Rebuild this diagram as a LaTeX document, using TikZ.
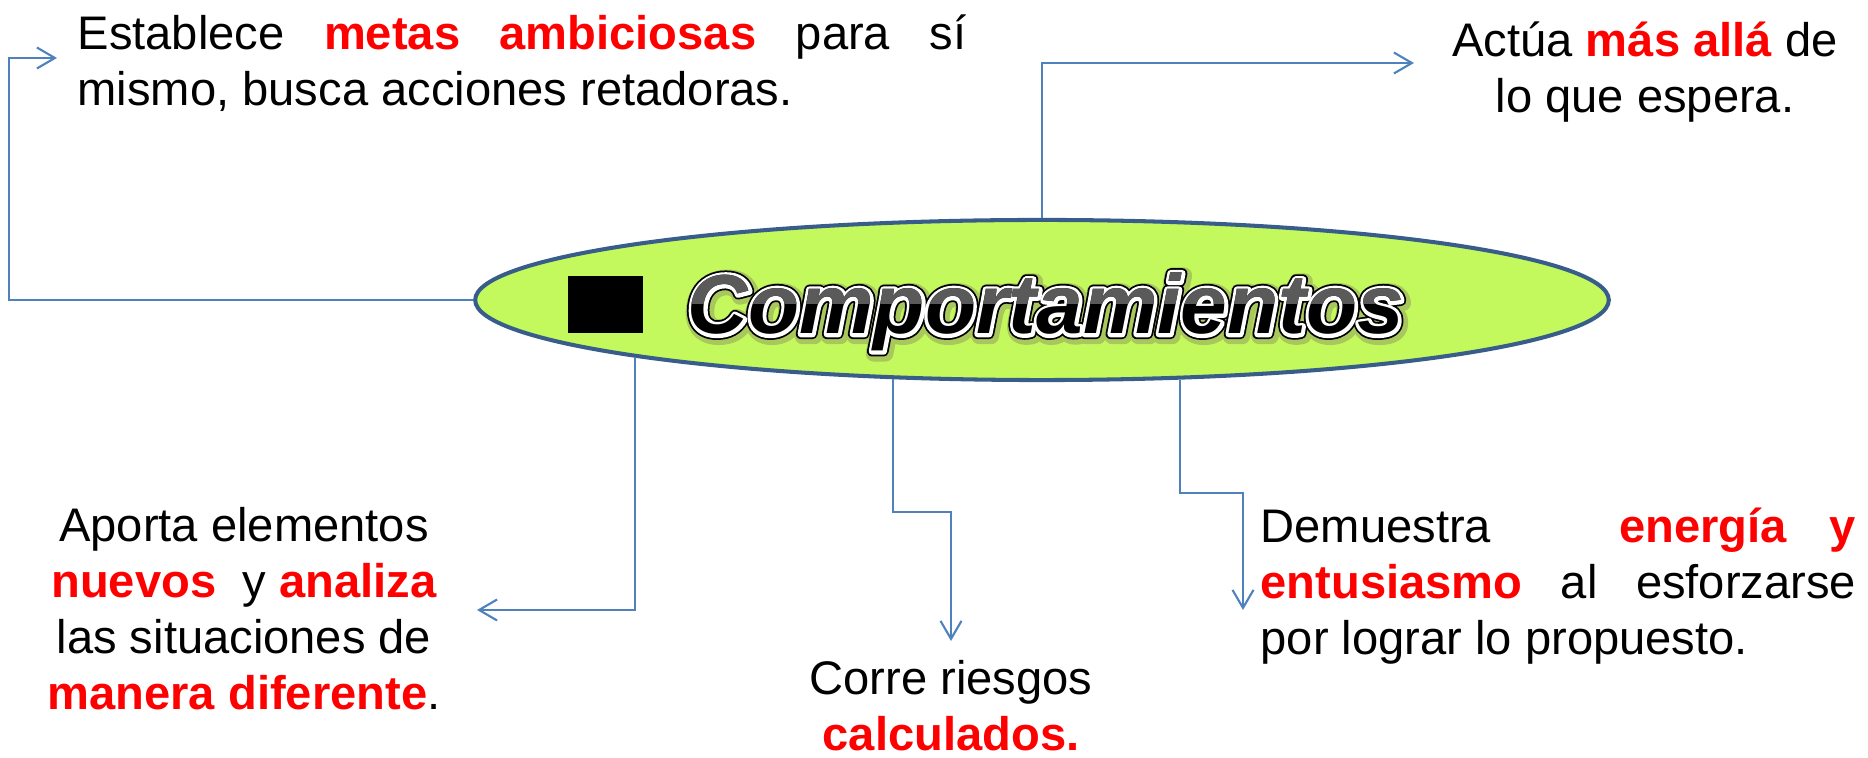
\documentclass[tikz,border=0pt]{standalone}
\usepackage{fontspec}
\setmainfont{Liberation Sans}
\usetikzlibrary{shapes.geometric,arrows.meta}

\definecolor{linkblue}{RGB}{79,129,189}
\definecolor{rimblue}{RGB}{56,93,138}
\definecolor{limefill}{RGB}{196,249,93}
\definecolor{titlegray}{RGB}{90,90,90}
\newcommand{\hot}[1]{\textcolor{red}{\textbf{#1}}}
% stroked text (render mode 1) with a given stroke colour and width
\newcommand{\rimtext}[2]{\special{pdf:literal direct 1 Tr #1 RG #2 w 1 j}Comportamientos\special{pdf:literal direct 0 Tr}}
\hyphenpenalty=10000

\begin{document}
\begin{tikzpicture}[x=0.01cm,y=-0.01cm,
  conn/.style={draw=linkblue,line width=0.6pt,-{Straight Barb[length=1.8mm,width=2.1mm]}},
  body/.style={inner sep=0pt,font=\fontsize{13.4}{15.9}\selectfont},
  titletext/.style={anchor=base,inner sep=0pt,font=\fontsize{23.8}{28}\selectfont\bfseries\itshape}]
  \useasboundingbox (0,0) rectangle (1868,758);

  \node[ellipse,draw=rimblue,line width=1.15pt,fill=limefill,minimum width=11.33cm,minimum height=1.6cm,inner sep=0pt] (core) at (1042,300) {};
  \node[fill=black,anchor=north west,minimum width=0.75cm,minimum height=0.57cm,inner sep=0pt] (bullet) at (567,275) {};

  % title, outlined
  \coordinate (ttl) at (1046,334);
  \node[titletext,text=black] (halo) at ([shift={(0.5pt,-0.6pt)}]ttl) {\rimtext{0.66 0.78 0.36}{4.6}};
  \node[titletext,text=black] (rimout) at (ttl) {\rimtext{0 0 0}{2.9}};
  \node[titletext,text=black] (rimin) at (ttl) {\rimtext{1 1 1}{1.9}};
  \node[titletext,text=black] (title) at (ttl) {Comportamientos};
  \begin{scope}
    \clip (600,240) rectangle (1500,304);
    \node[titletext,text=titlegray] at (ttl) {Comportamientos};
  \end{scope}

  \node[body,anchor=north west,text width=8.88cm,align=justify] (metas) at (77,14)
    {Establece \hot{metas ambiciosas} para sí\linebreak mismo, busca acciones retadoras.};
  \node[body,anchor=north,align=center] (mas) at (1645,21)
    {Actúa \hot{más allá} de\\lo que espera.};
  \node[body,anchor=north,align=center] (aporta) at (244,507)
    {Aporta elementos\\\hot{nuevos}~ y \hot{analiza}\\las situaciones de\\\hot{manera diferente}.};
  \node[body,anchor=north,align=center] (riesgos) at (951,660)
    {Corre riesgos\\\hot{calculados.}};
  \node[body,anchor=north west,text width=5.95cm,align=justify] (energia) at (1260,507)
    {Demuestra\ \ \ \hot{energía y}\linebreak \hot{entusiasmo} al esforzarse\linebreak por lograr lo propuesto.};

  \coordinate (metas-in) at (57,58);
  \coordinate (mas-in) at (1414,63);
  \coordinate (aporta-in) at (477,610);
  \coordinate (riesgos-in) at (951,641);
  \coordinate (energia-in) at (1243,610);

  \draw[conn] (core.west) -- ++(-464,0) |- (metas-in);
  \draw[conn] (core.north) |- (mas-in);
  \draw[conn] (core.188) |- (aporta-in);
  \draw[conn] (core.208) -- ++(0,133) -| (riesgos-in);
  \draw[conn] (core.330) -- ++(0,113) -| (energia-in);
\end{tikzpicture}
\end{document}
